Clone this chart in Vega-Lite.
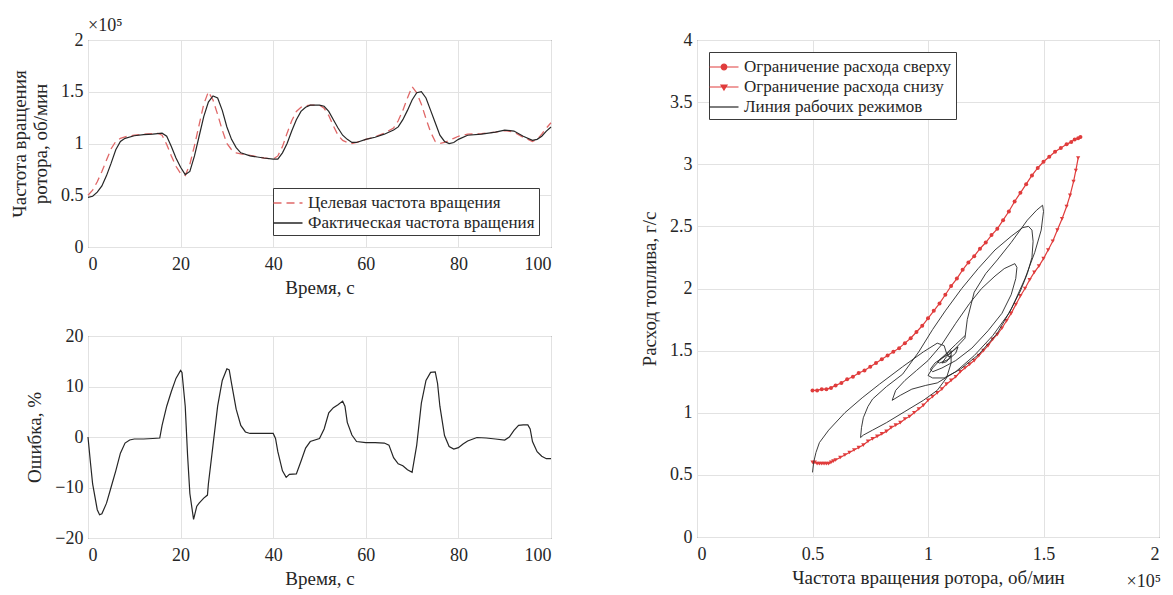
{
  "$schema": "https://vega.github.io/schema/vega-lite/v6.json",
  "background": "white",
  "padding": {"left": 10, "top": 16, "right": 2, "bottom": 2},
  "config": {
    "font": "Liberation Serif",
    "view": {"stroke": "#3a3a3a", "strokeWidth": 1},
    "axis": {
      "labelFont": "Liberation Serif", "titleFont": "Liberation Serif",
      "labelFontSize": 18, "titleFontSize": 19, "titleFontWeight": "normal",
      "labelColor": "#262626", "titleColor": "#262626",
      "gridColor": "#e2e2e2", "gridWidth": 1, "domain": false, "ticks": false, "labelPadding": 5
    },
    "axisX": {"titlePadding": 5, "labelPadding": 8},
    "legend": {
      "labelFont": "Liberation Serif", "labelFontSize": 17, "labelColor": "#262626",
      "strokeColor": "#3a3a3a", "fillColor": "white", "padding": 4, "rowPadding": 1,
      "labelLimit": 400, "title": null, "symbolSize": 400, "labelOffset": 9
    },
    "title": {"font": "Liberation Serif", "fontWeight": "normal", "color": "#262626"}
  },
  "resolve": {"scale": {"color": "independent"}, "legend": {"color": "independent"}},
  "datasets": {
    "speed": [
      {"t":0,"target":50000,"actual":48000},{"t":1,"target":55000,"actual":49000},{"t":2,"target":63000,"actual":53000},
      {"t":3,"target":73000,"actual":59000},{"t":4,"target":84000,"actual":69000},{"t":5,"target":95000,"actual":81000},
      {"t":6,"target":102000,"actual":94000},{"t":7,"target":105000,"actual":102000},{"t":8,"target":106500,"actual":105000},
      {"t":10,"target":108000,"actual":107500},{"t":12,"target":109000,"actual":108500},{"t":14,"target":109500,"actual":109000},
      {"t":15,"target":110000,"actual":109500},{"t":16,"target":108000,"actual":110000},{"t":17,"target":99000,"actual":107000},
      {"t":18,"target":88000,"actual":97000},{"t":19,"target":78000,"actual":86000},{"t":20,"target":71000,"actual":77000},
      {"t":21,"target":69000,"actual":70000},{"t":22,"target":80000,"actual":73000},{"t":23,"target":98000,"actual":88000},
      {"t":24,"target":118000,"actual":107000},{"t":25,"target":138000,"actual":126000},{"t":26,"target":150000,"actual":140000},
      {"t":27,"target":142000,"actual":146000},{"t":28,"target":128000,"actual":144000},{"t":29,"target":113000,"actual":132000},
      {"t":30,"target":100000,"actual":116000},{"t":31,"target":94000,"actual":104000},{"t":32,"target":91000,"actual":96000},
      {"t":33,"target":90000,"actual":91000},{"t":35,"target":88500,"actual":88000},{"t":38,"target":86000,"actual":86000},
      {"t":40,"target":85000,"actual":85000},{"t":41,"target":88000,"actual":85000},{"t":42,"target":97000,"actual":91000},
      {"t":43,"target":110000,"actual":100000},{"t":44,"target":122000,"actual":112000},{"t":45,"target":131000,"actual":123000},
      {"t":46,"target":135000,"actual":131000},{"t":47,"target":136500,"actual":135000},{"t":48,"target":137000,"actual":137000},
      {"t":50,"target":137000,"actual":137000},{"t":51,"target":134000,"actual":136000},{"t":52,"target":127000,"actual":131000},
      {"t":53,"target":117000,"actual":123000},{"t":54,"target":108000,"actual":115000},{"t":55,"target":103000,"actual":108000},
      {"t":56,"target":101000,"actual":104000},{"t":57,"target":100000,"actual":101000},{"t":58,"target":101000,"actual":101000},
      {"t":60,"target":104000,"actual":104000},{"t":62,"target":106500,"actual":106000},{"t":64,"target":110000,"actual":109000},
      {"t":66,"target":115000,"actual":113000},{"t":67,"target":122000,"actual":116000},{"t":68,"target":132000,"actual":123000},
      {"t":69,"target":144000,"actual":132000},{"t":70,"target":155000,"actual":142000},{"t":71,"target":149000,"actual":149000},
      {"t":72,"target":138000,"actual":150000},{"t":73,"target":124000,"actual":144000},{"t":74,"target":111000,"actual":132000},
      {"t":75,"target":102000,"actual":120000},{"t":76,"target":100000,"actual":108000},{"t":77,"target":101000,"actual":102000},
      {"t":78,"target":103000,"actual":100000},{"t":79,"target":105000,"actual":101000},{"t":80,"target":107000,"actual":104000},
      {"t":82,"target":109000,"actual":108000},{"t":85,"target":109500,"actual":109000},{"t":88,"target":111000,"actual":111000},
      {"t":90,"target":112500,"actual":113000},{"t":92,"target":111000,"actual":112000},{"t":94,"target":106000,"actual":107000},
      {"t":96,"target":102000,"actual":103000},{"t":97,"target":104000,"actual":104000},{"t":98,"target":109000,"actual":107000},
      {"t":99,"target":115000,"actual":112000},{"t":100,"target":120000,"actual":116000}
    ],
    "error": [
      {"t":0,"e":0},{"t":0.5,"e":-4.8},{"t":1,"e":-9.3},{"t":2,"e":-14.4},{"t":2.5,"e":-15.4},{"t":3,"e":-15.2},
      {"t":4,"e":-13.1},{"t":5,"e":-9.9},{"t":6,"e":-6.7},{"t":7,"e":-3.2},{"t":8,"e":-1.2},{"t":9,"e":-0.6},
      {"t":10,"e":-0.4},{"t":12,"e":-0.4},{"t":14,"e":-0.3},{"t":15.5,"e":-0.2},{"t":16,"e":2.3},{"t":17,"e":6.1},
      {"t":18,"e":9.0},{"t":19,"e":11.6},{"t":20,"e":13.2},{"t":20.3,"e":12.8},{"t":21,"e":6.1},{"t":21.5,"e":-3.5},
      {"t":22,"e":-11.2},{"t":22.8,"e":-16.3},{"t":23.5,"e":-13.7},{"t":24,"e":-13.1},{"t":25,"e":-12.1},{"t":25.8,"e":-11.5},
      {"t":26,"e":-9.3},{"t":27,"e":-1.6},{"t":28,"e":6.1},{"t":29,"e":11.2},{"t":30,"e":13.5},{"t":30.5,"e":13.3},
      {"t":31,"e":10.6},{"t":32,"e":5.5},{"t":33,"e":2.3},{"t":34,"e":1.0},{"t":35,"e":0.7},{"t":38,"e":0.7},
      {"t":40,"e":0.7},{"t":40.5,"e":-0.3},{"t":41,"e":-2.9},{"t":42,"e":-6.7},{"t":42.8,"e":-8.0},{"t":43.5,"e":-7.4},
      {"t":45,"e":-7.3},{"t":46,"e":-4.8},{"t":47,"e":-2.2},{"t":48,"e":-0.9},{"t":50,"e":-0.3},{"t":51,"e":1.6},
      {"t":52,"e":4.8},{"t":53,"e":5.8},{"t":54,"e":6.4},{"t":55,"e":7.1},{"t":55.5,"e":6.1},{"t":56,"e":2.9},
      {"t":57,"e":0.4},{"t":58,"e":-0.9},{"t":60,"e":-1.1},{"t":62,"e":-1.1},{"t":64,"e":-1.2},{"t":65,"e":-1.6},
      {"t":66,"e":-4.1},{"t":67,"e":-5.3},{"t":68,"e":-5.7},{"t":69,"e":-6.5},{"t":70,"e":-7.0},{"t":71,"e":-1.6},
      {"t":72,"e":6.7},{"t":73,"e":11.2},{"t":74,"e":12.8},{"t":75,"e":12.9},{"t":75.5,"e":10.6},{"t":76,"e":6.1},
      {"t":77,"e":0.3},{"t":78,"e":-1.9},{"t":79,"e":-2.4},{"t":80,"e":-2.1},{"t":81,"e":-1.4},{"t":82,"e":-0.8},
      {"t":84,"e":-0.1},{"t":86,"e":-0.2},{"t":88,"e":-0.4},{"t":90,"e":-0.6},{"t":91,"e":0},{"t":92,"e":1.3},
      {"t":93,"e":2.3},{"t":94,"e":2.4},{"t":95,"e":2.4},{"t":95.5,"e":1.6},{"t":96,"e":-0.9},{"t":97,"e":-2.9},
      {"t":98,"e":-3.8},{"t":99,"e":-4.3},{"t":100,"e":-4.3}
    ],
    "upper": [
      {"n":50000,"q":1.18},{"n":52000,"q":1.18},{"n":54000,"q":1.19},{"n":56000,"q":1.19},{"n":58000,"q":1.20},
      {"n":60000,"q":1.22},{"n":62500,"q":1.24},{"n":65000,"q":1.27},{"n":67500,"q":1.29},{"n":70000,"q":1.32},
      {"n":72500,"q":1.34},{"n":75000,"q":1.37},{"n":77500,"q":1.40},{"n":80000,"q":1.43},{"n":82500,"q":1.46},
      {"n":85000,"q":1.49},{"n":87500,"q":1.52},{"n":90000,"q":1.56},{"n":92500,"q":1.60},{"n":95000,"q":1.65},
      {"n":97500,"q":1.70},{"n":100000,"q":1.76},{"n":102500,"q":1.82},{"n":105000,"q":1.88},{"n":107500,"q":1.95},
      {"n":110000,"q":2.02},{"n":112500,"q":2.08},{"n":115000,"q":2.15},{"n":117500,"q":2.21},{"n":120000,"q":2.26},
      {"n":122500,"q":2.32},{"n":125000,"q":2.37},{"n":127500,"q":2.43},{"n":130000,"q":2.48},{"n":132500,"q":2.55},
      {"n":135000,"q":2.62},{"n":137500,"q":2.70},{"n":140000,"q":2.77},{"n":142500,"q":2.84},{"n":145000,"q":2.91},
      {"n":147500,"q":2.97},{"n":150000,"q":3.02},{"n":152500,"q":3.06},{"n":155000,"q":3.10},{"n":157500,"q":3.13},
      {"n":160000,"q":3.16},{"n":162000,"q":3.18},{"n":163500,"q":3.20},{"n":165000,"q":3.21},{"n":166000,"q":3.22}
    ],
    "lower": [
      {"n":50000,"q":0.60},{"n":51000,"q":0.60},{"n":52000,"q":0.59},{"n":53000,"q":0.59},{"n":54000,"q":0.59},
      {"n":55000,"q":0.59},{"n":56000,"q":0.59},{"n":57000,"q":0.59},{"n":58000,"q":0.60},{"n":59000,"q":0.61},
      {"n":60000,"q":0.62},{"n":62000,"q":0.64},{"n":64000,"q":0.66},{"n":66000,"q":0.68},{"n":68000,"q":0.70},
      {"n":70000,"q":0.72},{"n":72000,"q":0.74},{"n":74000,"q":0.77},{"n":76000,"q":0.79},{"n":78000,"q":0.81},
      {"n":80000,"q":0.83},{"n":82000,"q":0.85},{"n":84000,"q":0.88},{"n":86000,"q":0.90},{"n":88000,"q":0.92},
      {"n":90000,"q":0.95},{"n":92000,"q":0.97},{"n":94000,"q":1.00},{"n":96000,"q":1.03},{"n":98000,"q":1.06},
      {"n":100000,"q":1.10},{"n":102000,"q":1.13},{"n":104000,"q":1.16},{"n":106000,"q":1.19},{"n":108000,"q":1.23},
      {"n":110000,"q":1.26},{"n":112000,"q":1.29},{"n":114000,"q":1.33},{"n":116000,"q":1.36},{"n":118000,"q":1.39},
      {"n":120000,"q":1.42},{"n":122000,"q":1.46},{"n":124000,"q":1.50},{"n":126000,"q":1.54},{"n":128000,"q":1.59},
      {"n":130000,"q":1.63},{"n":132000,"q":1.68},{"n":134000,"q":1.74},{"n":136000,"q":1.80},{"n":138000,"q":1.87},
      {"n":140000,"q":1.94},{"n":142000,"q":2.00},{"n":144000,"q":2.07},{"n":146000,"q":2.13},{"n":148000,"q":2.18},
      {"n":150000,"q":2.24},{"n":152000,"q":2.31},{"n":154000,"q":2.38},{"n":156000,"q":2.47},{"n":158000,"q":2.56},
      {"n":160000,"q":2.66},{"n":161500,"q":2.75},{"n":163000,"q":2.86},{"n":164000,"q":2.95},{"n":165000,"q":3.05}
    ],
    "path": [
      {"n":50000,"q":0.52},{"n":50500,"q":0.60},{"n":51500,"q":0.68},{"n":53000,"q":0.76},{"n":57000,"q":0.86},
      {"n":64000,"q":1.00},{"n":71500,"q":1.12},{"n":79000,"q":1.23},{"n":89000,"q":1.37},{"n":98000,"q":1.49},
      {"n":104000,"q":1.56},{"n":107000,"q":1.54},{"n":108000,"q":1.48},{"n":109000,"q":1.45},{"n":110000,"q":1.46},
      {"n":110000,"q":1.40},{"n":108000,"q":1.28},{"n":104000,"q":1.18},{"n":98000,"q":1.10},{"n":90000,"q":1.01},
      {"n":82000,"q":0.92},{"n":76000,"q":0.86},{"n":72000,"q":0.82},{"n":70800,"q":0.80},
      {"n":71200,"q":0.88},{"n":72000,"q":0.96},{"n":74000,"q":1.05},{"n":76000,"q":1.11},{"n":82000,"q":1.21},
      {"n":89000,"q":1.31},{"n":96000,"q":1.49},{"n":102000,"q":1.67},{"n":107500,"q":1.82},{"n":114600,"q":2.00},
      {"n":121700,"q":2.16},{"n":129000,"q":2.31},{"n":136000,"q":2.42},{"n":141000,"q":2.49},{"n":143500,"q":2.50},
      {"n":145000,"q":2.47},
      {"n":145500,"q":2.38},{"n":145000,"q":2.25},{"n":143000,"q":2.12},{"n":140000,"q":1.98},{"n":135000,"q":1.80},
      {"n":128000,"q":1.62},{"n":120000,"q":1.46},{"n":112000,"q":1.33},{"n":104000,"q":1.24},{"n":99000,"q":1.22},
      {"n":93000,"q":1.19},{"n":88000,"q":1.14},{"n":84500,"q":1.10},
      {"n":86000,"q":1.18},{"n":90000,"q":1.26},{"n":95000,"q":1.34},{"n":100000,"q":1.42},{"n":106000,"q":1.55},
      {"n":112000,"q":1.72},{"n":118000,"q":1.88},{"n":123200,"q":2.00},{"n":129000,"q":2.10},{"n":133000,"q":2.16},
      {"n":137600,"q":2.20},{"n":138500,"q":2.17},
      {"n":138000,"q":2.08},{"n":136000,"q":1.95},{"n":132000,"q":1.80},{"n":126000,"q":1.66},{"n":119000,"q":1.52},
      {"n":112000,"q":1.42},{"n":106000,"q":1.36},{"n":102000,"q":1.33},
      {"n":101000,"q":1.35},{"n":103000,"q":1.40},{"n":106000,"q":1.44},{"n":109000,"q":1.47},{"n":112000,"q":1.52},
      {"n":116000,"q":1.60},
      {"n":117000,"q":1.75},{"n":120000,"q":1.97},{"n":125000,"q":2.12},{"n":130000,"q":2.23},{"n":136000,"q":2.37},
      {"n":143000,"q":2.55},{"n":147000,"q":2.63},{"n":149600,"q":2.67},{"n":150000,"q":2.62},
      {"n":149000,"q":2.47},{"n":146200,"q":2.29},{"n":142000,"q":2.08},{"n":136200,"q":1.84},{"n":130000,"q":1.64},
      {"n":122000,"q":1.47},{"n":114000,"q":1.35},{"n":107000,"q":1.28},{"n":102000,"q":1.28},{"n":100000,"q":1.30},
      {"n":102000,"q":1.36},{"n":105000,"q":1.42},{"n":108000,"q":1.47},{"n":110000,"q":1.50},{"n":110000,"q":1.46},
      {"n":108000,"q":1.41},{"n":106000,"q":1.40},{"n":108000,"q":1.45},{"n":111000,"q":1.50},{"n":113000,"q":1.53},
      {"n":112000,"q":1.48},{"n":109000,"q":1.43},{"n":105000,"q":1.40},{"n":104000,"q":1.41},{"n":107000,"q":1.46},
      {"n":112000,"q":1.55},{"n":116000,"q":1.62}
    ]
  },
  "spacing": 85,
  "hconcat": [
    {
      "spacing": 28,
      "resolve": {"scale": {"color": "independent"}, "legend": {"color": "independent"}},
      "vconcat": [
        {
          "width": 463, "height": 207,
          "title": {"text": "×10⁵", "anchor": "start", "frame": "group", "fontSize": 18, "offset": -4},
          "data": {"name": "speed"},
          "layer": [
            {
              "mark": {"type": "line", "strokeWidth": 1.3, "strokeDash": [8, 5]},
              "encoding": {
                "x": {"field": "t", "type": "quantitative", "scale": {"domain": [0, 100]},
                      "axis": {"title": "Время, с", "values": [0, 20, 40, 60, 80, 100]}},
                "y": {"field": "target", "type": "quantitative", "scale": {"domain": [0, 200000]},
                      "axis": {"title": ["Частота вращения", "ротора, об/мин"], "values": [0, 50000, 100000, 150000, 200000],
                               "labelExpr": "format(datum.value/100000, '~g')", "titlePadding": 10}},
                "color": {"datum": "Целевая частота вращения", "type": "nominal",
                  "scale": {"domain": ["Целевая частота вращения", "Фактическая частота вращения"], "range": ["#e06868", "#262626"]},
                  "legend": {"orient": "bottom-right", "offset": 12, "symbolStrokeWidth": 1.3,
                    "encode": {"symbols": {"update": {
                      "shape": {"value": "M-1.45,0H1.45"},
                      "strokeDash": {"signal": "datum.value === 'Целевая частота вращения' ? [8, 5] : [1, 0]"}}}}}
                }
              }
            },
            {
              "mark": {"type": "line", "strokeWidth": 1.2},
              "encoding": {
                "x": {"field": "t", "type": "quantitative"},
                "y": {"field": "actual", "type": "quantitative"},
                "color": {"datum": "Фактическая частота вращения", "type": "nominal"}
              }
            }
          ]
        },
        {
          "width": 463, "height": 202,
          "data": {"name": "error"},
          "mark": {"type": "line", "strokeWidth": 1.2, "color": "#262626"},
          "encoding": {
            "x": {"field": "t", "type": "quantitative", "scale": {"domain": [0, 100]},
                  "axis": {"title": "Время, с", "values": [0, 20, 40, 60, 80, 100]}},
            "y": {"field": "e", "type": "quantitative", "scale": {"domain": [-20, 20]},
                  "axis": {"title": "Ошибка, %", "values": [-20, -10, 0, 10, 20], "titlePadding": 10}}
          }
        }
      ]
    },
    {
      "width": 462, "height": 497,
      "title": {"text": "×10⁵", "orient": "bottom", "anchor": "end", "fontSize": 18, "offset": -14, "dx": 2},
      "layer": [
        {
          "data": {"name": "upper"},
          "mark": {"type": "line", "strokeWidth": 1.2, "point": {"filled": true, "size": 16, "shape": "circle"}},
          "encoding": {
            "x": {"field": "n", "type": "quantitative", "scale": {"domain": [0, 200000]},
                  "axis": {"title": "Частота вращения ротора, об/мин", "values": [0, 50000, 100000, 150000, 200000],
                           "labelExpr": "format(datum.value/100000, '~g')"}},
            "y": {"field": "q", "type": "quantitative", "scale": {"domain": [0, 4]},
                  "axis": {"title": "Расход топлива, г/с", "values": [0, 0.5, 1, 1.5, 2, 2.5, 3, 3.5, 4], "format": "~g", "titlePadding": 10}},
            "color": {"datum": "Ограничение расхода сверху", "type": "nominal",
              "scale": {"domain": ["Ограничение расхода сверху", "Ограничение расхода снизу", "Линия рабочих режимов"], "range": ["#e03c3c", "#e03c3c", "#262626"]},
              "legend": {"orient": "top-left", "offset": 12, "symbolStrokeWidth": 1.2,
                "encode": {"symbols": {"update": {
                  "shape": {"signal": "datum.value === 'Ограничение расхода сверху' ? 'M-1.45,0H1.45M0.28,0A0.28,0.28 0 1,1 -0.28,0A0.28,0.28 0 1,1 0.28,0Z' : datum.value === 'Ограничение расхода снизу' ? 'M-1.45,0H1.45M0,0.3L0.3,-0.2L-0.3,-0.2Z' : 'M-1.45,0H1.45'"},
                  "fill": {"signal": "datum.value === 'Линия рабочих режимов' ? 'transparent' : '#e03c3c'"}
                }}}}
            }
          }
        },
        {
          "data": {"name": "lower"},
          "mark": {"type": "line", "strokeWidth": 1.2, "point": {"filled": true, "size": 18, "shape": "triangle-down"}},
          "encoding": {
            "x": {"field": "n", "type": "quantitative"},
            "y": {"field": "q", "type": "quantitative"},
            "color": {"datum": "Ограничение расхода снизу", "type": "nominal"}
          }
        },
        {
          "data": {"name": "path"},
          "mark": {"type": "line", "strokeWidth": 0.9},
          "encoding": {
            "x": {"field": "n", "type": "quantitative"},
            "y": {"field": "q", "type": "quantitative"},
            "order": {"value": null},
            "color": {"datum": "Линия рабочих режимов", "type": "nominal"}
          }
        }
      ]
    }
  ]
}
